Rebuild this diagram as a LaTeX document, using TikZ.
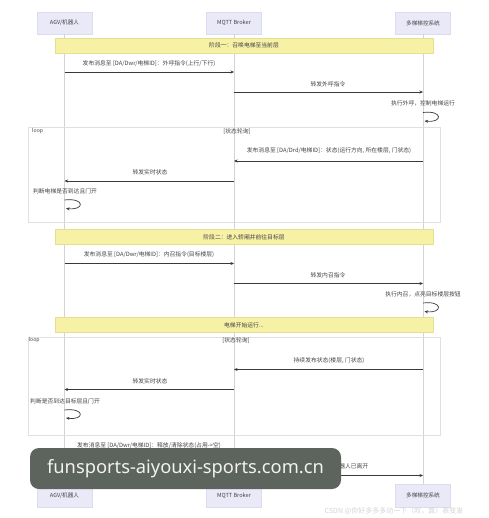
\documentclass[tikz,border=0pt]{standalone}
\usepackage{fontspec}
\setmainfont{Noto Sans CJK SC}
\newfontfamily\wmfont{Noto Sans}
\usetikzlibrary{arrows.meta}
\definecolor{actorfill}{HTML}{E9E9F8}
\definecolor{actorborder}{HTML}{DCDCF0}
\definecolor{notefill}{HTML}{F7F1A6}
\definecolor{noteborder}{HTML}{E6DE90}
\definecolor{lifecol}{HTML}{D2D2D8}
\definecolor{msgcol}{HTML}{3A3A3A}
\definecolor{txtcol}{HTML}{444444}
\definecolor{framecol}{HTML}{E0E0E0}
\definecolor{wmfill}{HTML}{5C645D}
\definecolor{wmtext}{HTML}{F2F2EE}
\definecolor{csdncol}{HTML}{D4D4D4}
\tikzset{
  actor/.style={draw=actorborder, fill=actorfill, line width=0.5pt, minimum width=55pt, minimum height=22pt, inner sep=0pt, font=\fontsize{5.6}{6}\selectfont, text=txtcol},
  note/.style={draw=noteborder, fill=notefill, line width=0.5pt, minimum width=378pt, minimum height=15pt, inner sep=0pt, font=\fontsize{5.8}{6}\selectfont, text=txtcol},
  life/.style={draw=lifecol, line width=0.6pt},
  msg/.style={draw=msgcol, line width=0.7pt, -{Stealth[length=3.5pt,width=3pt]}},
  lbl/.style={inner sep=0pt, font=\fontsize{5.8}{6}\selectfont, text=txtcol},
  loopframe/.style={draw=framecol, line width=0.6pt},
}
\begin{document}
\begin{tikzpicture}[x=1pt,y=-1pt]
\useasboundingbox[fill=white] (0,0) rectangle (488,518);
% participants
\node[actor] (A) at (64.5,23) {AGV/机器人};
\node[actor] (B) at (234,23) {MQTT Broker};
\node[actor] (C) at (423,23) {多梯梯控系统};
\node[actor, minimum height=23pt] (A2) at (64.5,495.5) {AGV/机器人};
\node[actor, minimum height=23pt] (B2) at (234,495.5) {MQTT Broker};
\node[actor, minimum height=23pt] (C2) at (423,495.5) {多梯梯控系统};
% lifelines
\draw[life] (A.south) -- (A2.north);
\draw[life] (B.south) -- (B2.north);
\draw[life] (C.south) -- (C2.north);
% loop frames
\draw[loopframe] (28,127) rectangle (440,222);
\node[lbl, anchor=west, font=\fontsize{5.2}{6}\selectfont] (L1) at (32,131.5) {loop};
\node[lbl] (L1c) at (237,132) {[状态轮询]};
\draw[loopframe] (28,337) rectangle (440,435);
\node[lbl, anchor=west, font=\fontsize{5.2}{6}\selectfont] (L2) at (28.5,340.5) {loop};
\node[lbl] (L2c) at (236,340.5) {[状态轮询]};
% phase 1
\node[note] (N1) at (244,45.5) {阶段一：召唤电梯至当前层};
\coordinate (a1) at (64.5,72); \coordinate (b1) at (234,72);
\draw[msg] (a1) -- (b1);
\node[lbl] (t1) at (149,64) {发布消息至 [DA/Dwr/电梯ID]：外呼指令(上行/下行)};
\coordinate (b2) at (234,92); \coordinate (c2) at (423,92);
\draw[msg] (b2) -- (c2);
\node[lbl] (t2) at (328,84) {转发外呼指令};
\node[lbl] (t3) at (423,103) {执行外呼，控制电梯运行};
\coordinate (c3a) at (423,112.5); \coordinate (c3b) at (424.5,121);
\draw[msg] (c3a) .. controls (443,110) and (443,123) .. (c3b);
% loop 1
\coordinate (c4) at (423,161); \coordinate (b4) at (234,161);
\draw[msg] (c4) -- (b4);
\node[lbl] (t4) at (329,151) {发布消息至 [DA/Drd/电梯ID]：状态(运行方向, 所在楼层, 门状态)};
\coordinate (b5) at (234,181); \coordinate (a5) at (64.5,181);
\draw[msg] (b5) -- (a5);
\node[lbl] (t5) at (150,172) {转发实时状态};
\node[lbl] (t6) at (65,191.5) {判断电梯是否到达且门开};
\coordinate (a6a) at (64.5,200); \coordinate (a6b) at (66,208.5);
\draw[msg] (a6a) .. controls (85,197.5) and (85,210.5) .. (a6b);
% phase 2
\node[note] (N2) at (244,237) {阶段二：进入轿厢并前往目标层};
\coordinate (a7) at (64.5,263.5); \coordinate (b7) at (234,263.5);
\draw[msg] (a7) -- (b7);
\node[lbl] (t7) at (149,255) {发布消息至 [DA/Dwr/电梯ID]：内召指令(目标楼层)};
\coordinate (b8) at (234,283.5); \coordinate (c8) at (423,283.5);
\draw[msg] (b8) -- (c8);
\node[lbl] (t8) at (328,275) {转发内召指令};
\node[lbl] (t9) at (423,294.5) {执行内召，点亮目标楼层按钮};
\coordinate (c9a) at (423,303); \coordinate (c9b) at (424.5,311.5);
\draw[msg] (c9a) .. controls (443,300.5) and (443,313.5) .. (c9b);
\node[note] (N3) at (244,325) {电梯开始运行...};
% loop 2
\coordinate (c10) at (423,369.5); \coordinate (b10) at (234,369.5);
\draw[msg] (c10) -- (b10);
\node[lbl] (t10) at (329,360.5) {持续发布状态(楼层, 门状态)};
\coordinate (b11) at (234,389.5); \coordinate (a11) at (64.5,389.5);
\draw[msg] (b11) -- (a11);
\node[lbl] (t11) at (150,381) {转发实时状态};
\node[lbl] (t12) at (65,401) {判断是否到达目标层且门开};
\coordinate (a12a) at (64.5,410); \coordinate (a12b) at (66,418);
\draw[msg] (a12a) .. controls (85,407.5) and (85,420.5) .. (a12b);
% release
\coordinate (a13) at (64.5,455); \coordinate (b13) at (234,455);
\draw[msg] (a13) -- (b13);
\node[lbl] (t13) at (149,446) {发布消息至 [DA/Dwr/电梯ID]：释放/清除状态(占用->空)};
\coordinate (b14) at (234,475.5); \coordinate (c14) at (423,475.5);
\draw[msg] (b14) -- (c14);
\node[lbl] (t14) at (330,467) {转发状态：AGV/机器人已离开};
% watermarks
\node[fill=wmfill, rounded corners=9pt, minimum width=311pt, minimum height=41pt, inner sep=0pt, text=wmtext, font=\wmfont\fontsize{18.3}{20}\selectfont] (WM) at (185.5,468.5) {funsports-aiyouxi-sports.com.cn};
\node[lbl, text=csdncol, font=\fontsize{7}{8}\selectfont] (CS) at (394,511) {CSDN @你好多多多动一下（叹，算）表变发};
\end{tikzpicture}
\end{document}
